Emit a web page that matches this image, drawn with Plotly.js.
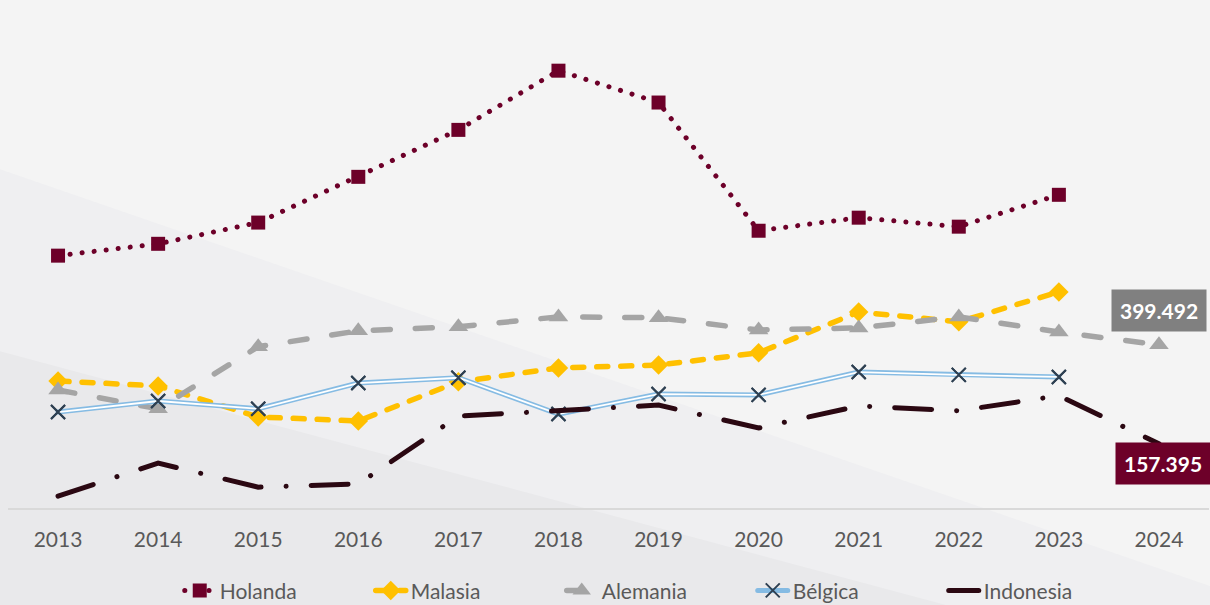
<!DOCTYPE html>
<html>
<head>
<meta charset="utf-8">
<script src="https://cdn.plot.ly/plotly-3.0.1.min.js"></script>
<style>
html,body{margin:0;padding:0;background:#f4f4f4;}
#chart{width:1210px;height:605px;}
#chart .scatterlayer .js-line, #chart .legend .js-line {stroke-linecap: round;}
</style>
</head>
<body>
<div id="chart"></div>
<script>
const years = ['2013','2014','2015','2016','2017','2018','2019','2020','2021','2022','2023','2024'];
const holanda   = [618, 647, 699, 811, 926, 1071, 993, 679, 711, 689, 767, null];
const malasia   = [311, 299, 223, 213, 309, 343, 350, 380, 480, 456, 529, null];
const alemania  = [289, 243, 395, 434, 444, 468, 466, 436, 441, 468, 431, 399.492];
const belgica   = [235, 262, 243, 306, 319, 230, 279, 277, 333, 326, 321, null];
const indonesia = [29, 110, 51, 59, 225, 238, 252, 196, 250, 238, 275, 157.395];
const names = ['Holanda','Malasia','Alemania','Bélgica','Indonesia'];
const labelAlemania = '399.492';
const labelIndonesia = '157.395';

const FONT = 'Lato, "Open Sans", "Noto Sans", sans-serif';
const lastIdx = years.length - 1;

const traces = [
  {x: years, y: holanda, name: names[0], type: 'scatter', mode: 'lines+markers',
   line: {color: '#6d0029', width: 5, dash: '0.1px,12px'},
   marker: {symbol: 'square', size: 14, color: '#6d0029'}},
  {x: years, y: malasia, name: names[1], type: 'scatter', mode: 'lines+markers',
   line: {color: '#ffc000', width: 5.5, dash: '11px,13px'},
   marker: {symbol: 'diamond', size: 15, color: '#ffc000'}},
  {x: years, y: alemania, name: names[2], type: 'scatter', mode: 'lines+markers',
   line: {color: '#a5a5a5', width: 5.5, dash: '17px,25px'},
   marker: {symbol: 'triangle-up', size: 17, color: '#a5a5a5'}},
  {x: years, y: belgica, name: names[3], type: 'scatter', mode: 'lines+markers',
   line: {color: '#85bbe3', width: 5},
   marker: {symbol: 'x-thin-open', size: 14, color: '#2e4052', line: {width: 2, color: '#2e4052'}}},
  {x: years, y: belgica, name: names[3], type: 'scatter', mode: 'lines', showlegend: false, hoverinfo: 'skip',
   line: {color: '#ffffff', width: 1.8}},
  {x: years, y: belgica, name: names[3], type: 'scatter', mode: 'markers', showlegend: false,
   marker: {symbol: 'x-thin-open', size: 14, color: '#2e4052', line: {width: 2, color: '#2e4052'}}},
  {x: years, y: indonesia, name: names[4], type: 'scatter', mode: 'lines',
   line: {color: '#2b0812', width: 5, dash: '37px,25px,0.1px,25px'}}
];

// background bands (paper coords relative to plot area)
const shapes = [
  {type: 'path', xref: 'paper', yref: 'paper', layer: 'below',
   path: 'M -0.01 0.694 L 1.01 -0.167 L 1.01 -0.2 L -0.01 -0.2 Z',
   fillcolor: '#efeff1', line: {width: 0}},
  {type: 'path', xref: 'paper', yref: 'paper', layer: 'below',
   path: 'M -0.01 0.322 L 0.784 -0.2 L -0.01 -0.2 Z',
   fillcolor: '#e9e9eb', line: {width: 0}}
];

const annotations = [
  {x: lastIdx, y: alemania[lastIdx], xref: 'x', yref: 'y', text: '<b>' + labelAlemania + '</b>',
   showarrow: false, yshift: 34, bgcolor: '#808080', borderpad: 8,
   font: {family: FONT, size: 21, color: '#ffffff'}},
  {x: lastIdx, y: indonesia[lastIdx], xref: 'x', yref: 'y', text: '<b>' + labelIndonesia + '</b>',
   showarrow: false, yshift: -20, xshift: 4, bgcolor: '#6d0029', borderpad: 8,
   font: {family: FONT, size: 21, color: '#ffffff'}}
];

const layout = {
  width: 1210, height: 605,
  margin: {l: 8, r: 1, t: 18, b: 97, autoexpand: false},
  paper_bgcolor: '#f4f4f4',
  plot_bgcolor: 'rgba(0,0,0,0)',
  font: {family: FONT, size: 20, color: '#595959'},
  showlegend: true,
  legend: {orientation: 'h', x: 0.143, xanchor: 'left', y: -0.127, yanchor: 'top',
           font: {family: FONT, size: 21, color: '#595959'}, bgcolor: 'rgba(0,0,0,0)',
           entrywidth: 146, traceorder: 'normal'},
  xaxis: {type: 'category', range: [-0.5, 11.5], showgrid: false, zeroline: false,
          showline: true, linecolor: '#d9d9d9', linewidth: 1.5, ticks: '',
          tickfont: {family: FONT, size: 21, color: '#595959'}, ticklabelstandoff: 12,
          fixedrange: true},
  yaxis: {range: [0, 1200], visible: false, showgrid: false, zeroline: false, fixedrange: true},
  shapes: shapes,
  annotations: annotations
};

Plotly.newPlot('chart', traces, layout, {displayModeBar: false, staticPlot: true});
</script>
</body>
</html>
